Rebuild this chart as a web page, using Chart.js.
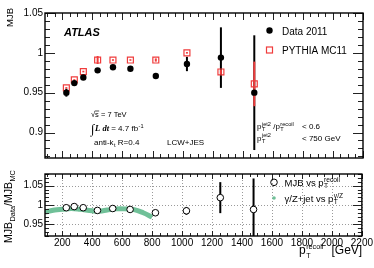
<!DOCTYPE html>
<html><head><meta charset="utf-8">
<script src="https://cdn.jsdelivr.net/npm/chart.js@4.4.1/dist/chart.umd.min.js"></script>
<style>
html,body{margin:0;padding:0;background:#fff;width:374px;height:268px;overflow:hidden}
canvas{position:absolute;left:0}
#c1{top:0}
#c2{top:166px}
</style></head><body>
<canvas id="c1" width="374" height="166"></canvas>
<canvas id="c2" width="374" height="102"></canvas>
<script>
// ---- data ----
const ptRecoil   = [227, 280, 340, 435, 537, 653, 822, 1029, 1255, 1477];
const mjbData    = [0.950, 0.962, 0.969, 0.978, 0.982, 0.980, 0.971, 0.986, 0.994, 0.950];
const mjbDataErr = [0.005, 0.003, 0.002, 0.001, 0.001, 0.001, 0.001, 0.009, 0.038, 0.072];
const mjbMC      = [0.956, 0.966, 0.9765, 0.991, 0.991, 0.991, 0.991, 1.000, 0.976, 0.961];
const mjbMCErr   = [0.001, 0.001, 0.001, 0.005, 0.001, 0.001, 0.002, 0.001, 0.003, 0.028];
const ratio      = [0.993, 0.996, 0.993, 0.986, 0.991, 0.9885, 0.980, 0.985, 1.019, 0.9885];
const ratioErr   = [0.001, 0.001, 0.001, 0.001, 0.001, 0.001, 0.001, 0.010, 0.040, 0.080];
const gzPt       = [85, 150, 200, 260, 320, 400, 450, 500, 560, 620, 680, 740, 800];
const gzRatio    = [0.982, 0.987, 0.989, 0.991, 0.989, 0.985, 0.984, 0.987, 0.990, 0.990, 0.988, 0.980, 0.969];
const xTicks     = [200, 400, 600, 800, 1000, 1200, 1400, 1600, 1800, 2000, 2200];
const yTicksTop  = [0.9, 0.95, 1, 1.05];
const yTicksBot  = [0.95, 1, 1.05];

const FONT = 'Liberation Sans, Arial, sans-serif';
const RED = '#f03c3c';
const GREEN = 'rgb(112,192,152)';

function rich(ctx, x, y, parts, size, r) {
  r = r || 0.7;
  let cx = x;
  const ss = size * r;
  for (const p of parts) {
    if (typeof p === 'string') {
      ctx.font = size + 'px ' + FONT;
      ctx.fillText(p, cx, y);
      cx += ctx.measureText(p).width;
    } else if (p.t) {
      ctx.font = p.font;
      ctx.fillText(p.t, cx + (p.dx || 0), y + (p.dy || 0));
      cx += ctx.measureText(p.t).width + (p.dx || 0);
    } else if (p.at !== undefined) {
      cx = p.at;
    } else {
      ctx.font = ss + 'px ' + FONT;
      let w = 0;
      if (p.sup) { ctx.fillText(p.sup, cx + 0.5, y - size * 0.42); w = Math.max(w, ctx.measureText(p.sup).width + 0.5); }
      if (p.sub) { ctx.fillText(p.sub, cx + 0.5, y + size * 0.3); w = Math.max(w, ctx.measureText(p.sub).width + 0.5); }
      cx += w;
    }
  }
  return cx;
}

function seg(ctx, x1, y1, x2, y2) { ctx.beginPath(); ctx.moveTo(x1, y1); ctx.lineTo(x2, y2); ctx.stroke(); }

function drawFrame(chart, o) {
  const { ctx, chartArea: a, scales: { x, y } } = chart;
  ctx.save();
  ctx.strokeStyle = '#222'; ctx.lineWidth = 1;
  for (let v = Math.ceil(x.min / 50) * 50; v <= x.max; v += 50) {
    const px = Math.round(x.getPixelForValue(v)) + 0.5;
    const L = v % 200 === 0 ? o.xMaj : o.xMin;
    seg(ctx, px, a.bottom, px, a.bottom - L);
    seg(ctx, px, a.top, px, a.top + L);
  }
  for (let k = Math.ceil(y.min * 100 - 1e-6); k <= y.max * 100 + 1e-6; k++) {
    const py = Math.round(y.getPixelForValue(k / 100)) + 0.5;
    const L = k % 5 === 0 ? o.yMaj : o.yMin;
    seg(ctx, a.left, py, a.left + L, py);
    seg(ctx, a.right, py, a.right - L, py);
  }
  ctx.strokeStyle = '#000'; ctx.lineWidth = 1.4;
  ctx.strokeRect(a.left, a.top, a.right - a.left, a.bottom - a.top);
  ctx.restore();
}

function drawErrors(chart, sets) {
  const { ctx, chartArea: a, scales: { x, y } } = chart;
  ctx.save();
  ctx.beginPath(); ctx.rect(a.left, a.top, a.right - a.left, a.bottom - a.top); ctx.clip();
  for (const s of sets) {
    ctx.strokeStyle = s.color; ctx.lineWidth = 2;
    s.xs.forEach((xv, i) => {
      const px = x.getPixelForValue(xv);
      seg(ctx, px, y.getPixelForValue(s.ys[i] - s.err[i]), px, y.getPixelForValue(s.ys[i] + s.err[i]));
    });
  }
  ctx.restore();
}

const yAxisCommon = (min, max, ticks) => ({
  min, max,
  afterFit(s) { s.width = 45; },
  afterBuildTicks(s) { s.ticks = ticks.map(v => ({ value: v })); },
  grid: { display: false, drawTicks: false },
  border: { display: false },
  ticks: { padding: 2, color: '#000', font: { family: FONT, size: 10 }, callback: v => String(+(+v).toFixed(2)) }
});

// ---------------- top panel ----------------
new Chart(document.getElementById('c1'), {
  type: 'scatter',
  data: { datasets: [
    { label: 'Data 2011', data: ptRecoil.map((v, i) => ({ x: v, y: mjbData[i] })),
      pointStyle: 'circle', pointRadius: 3.2, backgroundColor: '#000', borderColor: '#000', borderWidth: 0 },
    { label: 'PYTHIA MC11', data: ptRecoil.map((v, i) => ({ x: v, y: mjbMC[i] })),
      pointStyle: 'rect', pointRadius: 4.2, backgroundColor: 'rgba(0,0,0,0)', borderColor: RED, borderWidth: 1.2 }
  ] },
  options: {
    responsive: false, animation: false, devicePixelRatio: 1,
    layout: { padding: { top: 13, right: 11, bottom: 4, left: 0 } },
    plugins: { legend: { display: false }, tooltip: { enabled: false } },
    scales: {
      x: { type: 'linear', min: 85, max: 2200, display: false },
      y: yAxisCommon(0.868, 1.05, yTicksTop)
    }
  },
  plugins: [{
    id: 'topDeco',
    beforeDatasetsDraw(chart) {
      drawErrors(chart, [
        { xs: ptRecoil, ys: mjbData, err: mjbDataErr, color: '#000' },
        { xs: ptRecoil, ys: mjbMC, err: mjbMCErr, color: RED }
      ]);
    },
    afterDraw(chart) {
      drawFrame(chart, { xMaj: 7, xMin: 4, yMaj: 10, yMin: 5 });
      const ctx = chart.ctx;
      ctx.save();
      ctx.fillStyle = '#000'; ctx.textBaseline = 'alphabetic'; ctx.textAlign = 'left';
      // y title
      ctx.save(); ctx.translate(12.5, 27); ctx.rotate(-Math.PI / 2);
      ctx.font = '9.5px ' + FONT; ctx.fillText('MJB', 0, 0); ctx.restore();
      // ATLAS
      ctx.font = 'italic bold 11px ' + FONT; ctx.fillText('ATLAS', 64, 36);
      // legend
      ctx.beginPath(); ctx.arc(269.5, 30.5, 3.2, 0, Math.PI * 2); ctx.fill();
      ctx.strokeStyle = RED; ctx.lineWidth = 1.2; ctx.strokeRect(266.5, 47, 6, 6);
      ctx.font = '10px ' + FONT;
      ctx.fillText('Data 2011', 282, 34.5);
      ctx.fillText('PYTHIA MC11', 282, 54);
      // sqrt(s)
      ctx.font = '7.5px ' + FONT;
      ctx.fillText('\u221A', 91, 117);
      const sx = 91 + ctx.measureText('\u221A').width;
      ctx.fillText('s = 7 TeV', sx, 117);
      const sw = ctx.measureText('s').width;
      ctx.strokeStyle = '#000'; ctx.lineWidth = 0.7; seg(ctx, sx - 0.3, 111, sx + sw + 0.3, 111);
      // lumi
      rich(ctx, 91, 131, [
        { t: '\u222B', font: '13px Liberation Serif, serif', dy: 2 },
        { t: 'L dt', font: 'italic bold 8.5px Liberation Serif, serif', dx: 0.5 },
        ' = 4.7 fb', { sup: '-1' }
      ], 8);
      // jet algo
      rich(ctx, 94, 144.5, ['anti-k', { sub: 't' }, ' R=0.4', { at: 167 }, 'LCW+JES'], 8);
      // cuts
      rich(ctx, 257, 129, ['p', { sub: 'T', sup: 'jet2' }, ' /p', { sub: 'T', sup: 'recoil' }, { at: 302 }, '< 0.6'], 8);
      rich(ctx, 257, 140.5, ['p', { sub: 'T', sup: 'jet2' }, { at: 302 }, '< 750 GeV'], 8);
      ctx.restore();
    }
  }]
});

// ---------------- bottom panel ----------------
new Chart(document.getElementById('c2'), {
  type: 'scatter',
  data: { datasets: [
    { label: 'MJB vs pT recoil', data: ptRecoil.map((v, i) => ({ x: v, y: ratio[i] })),
      pointStyle: 'circle', pointRadius: 3.3, backgroundColor: '#fff', borderColor: '#000', borderWidth: 1 },
    { label: 'gamma/Z+jet', type: 'line', data: gzPt.map((v, i) => ({ x: v, y: gzRatio[i] })),
      borderColor: GREEN, borderWidth: 5, tension: 0.4, pointRadius: 0, fill: false, borderCapStyle: 'butt' }
  ] },
  options: {
    responsive: false, animation: false, devicePixelRatio: 1,
    layout: { padding: { top: 4, right: 11, bottom: 0, left: 0 } },
    plugins: { legend: { display: false }, tooltip: { enabled: false } },
    scales: {
      x: { type: 'linear', min: 85, max: 2200,
        afterFit(s) { s.height = 32; },
        afterBuildTicks(s) { s.ticks = xTicks.map(v => ({ value: v })); },
        grid: { display: false, drawTicks: false }, border: { display: false },
        ticks: { padding: 1, maxRotation: 0, autoSkip: false, color: '#000', font: { family: FONT, size: 10 }, callback: v => String(v) } },
      y: yAxisCommon(0.92, 1.08, yTicksBot)
    }
  },
  plugins: [{
    id: 'botDeco',
    beforeDatasetsDraw(chart) {
      const { ctx, chartArea: a, scales: { x, y } } = chart;
      ctx.save();
      ctx.strokeStyle = '#9a9a9a'; ctx.lineWidth = 1; ctx.setLineDash([1, 2]);
      xTicks.forEach(v => { const px = Math.round(x.getPixelForValue(v)) + 0.5; seg(ctx, px, a.top, px, a.bottom); });
      yTicksBot.forEach(v => { const py = Math.round(y.getPixelForValue(v)) + 0.5; seg(ctx, a.left, py, a.right, py); });
      ctx.restore();
      drawErrors(chart, [{ xs: ptRecoil, ys: ratio, err: ratioErr, color: '#000' }]);
    },
    afterDraw(chart) {
      drawFrame(chart, { xMaj: 5, xMin: 3, yMaj: 9, yMin: 4 });
      const ctx = chart.ctx;
      ctx.save();
      ctx.fillStyle = '#000'; ctx.textBaseline = 'alphabetic'; ctx.textAlign = 'left';
      const off = 166;
      // y title
      ctx.save(); ctx.translate(12, 243 - off); ctx.rotate(-Math.PI / 2);
      rich(ctx, 0, 0, ['MJB', { sub: 'Data' }, '/MJB', { sub: 'MC' }], 10.5);
      ctx.restore();
      // legend
      ctx.strokeStyle = '#000'; ctx.lineWidth = 1;
      ctx.beginPath(); ctx.arc(274, 182.3 - off, 3.3, 0, Math.PI * 2); ctx.stroke();
      ctx.fillStyle = GREEN; ctx.beginPath(); ctx.arc(274, 198 - off, 1.8, 0, Math.PI * 2); ctx.fill();
      ctx.fillStyle = '#000';
      rich(ctx, 284.5, 185.5 - off, ['MJB vs p', { sub: 'T', sup: 'recoil' }], 9.5);
      rich(ctx, 284.5, 201.5 - off, ['\u03B3/Z+jet vs p', { sub: 'T', sup: '\u03B3/Z' }], 9.5);
      // x title
      rich(ctx, 299, 254 - off, ['p', { sub: 'T', sup: 'recoil' }, { at: 331.5 }, '[GeV]'], 12, 0.6);
      ctx.restore();
    }
  }]
});
</script>
</body></html>
